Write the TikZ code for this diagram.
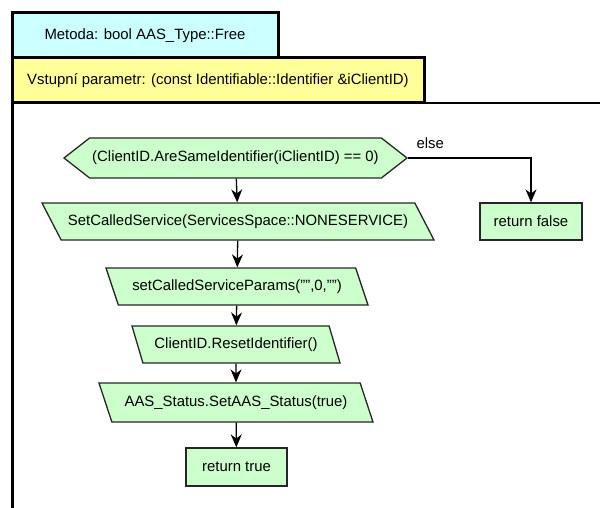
\documentclass[tikz,border=0pt]{standalone}
\usepackage{fontspec}
\setmainfont{Liberation Sans}[Ligatures=ResetAll]
\usetikzlibrary{positioning,shapes.geometric,shapes.symbols,arrows.meta}
\definecolor{hdrcyan}{RGB}{204,255,255}
\definecolor{hdryellow}{RGB}{255,255,153}
\definecolor{flowgreen}{RGB}{204,255,204}
\tikzset{
  hdr/.style={draw=black,line width=3pt,minimum height=45pt,inner sep=0pt},
  cond/.style={signal,signal to=west and east,signal pointer angle=76,draw=black!85,
    line width=1.3pt,fill=flowgreen,minimum height=40pt,inner xsep=2pt},
  proc/.style={trapezium,trapezium stretches body=true,draw=black!85,line width=1.3pt,
    fill=flowgreen,minimum height=37pt,inner xsep=0pt},
  retbox/.style={draw=black!85,line width=1.3pt,fill=flowgreen,minimum height=37pt},
  flow/.style={line width=1.3pt,-{Stealth[length=13pt,width=11pt]}}
}
\begin{document}
\begin{tikzpicture}[x=1pt,y=-1pt,font=\fontsize{14.9}{17}\selectfont]
\useasboundingbox (0,0) rectangle (600,508);
% frame of the method body
\draw [line width=2.5pt] (12,520) -- (12,103) -- (610,103);
\draw [line width=3pt] (12,103) -- (12,520);
% headers
\node [hdr,fill=hdrcyan,minimum width=266pt] (title) at (145,35.5) {Metoda: bool AAS\_Type::Free};
\node [hdr,fill=hdryellow,minimum width=412pt] (param) at (218,80.5) {Vstupní parametr: (const Identifiable::Identifier \&iClientID)};
% flow
\node [cond,minimum width=343pt] (test) at (235.5,158) {(ClientID.AreSameIdentifier(iClientID) == 0)};
\node [proc,trapezium left angle=133,trapezium right angle=47,minimum width=392pt] (svc) at (238,221.5) {SetCalledService(ServicesSpace::NONESERVICE)};
\node [proc,trapezium left angle=121,trapezium right angle=59,minimum width=262pt] (params) at (237,286.5) {setCalledServiceParams("",0,"")};
\node [proc,trapezium left angle=118,trapezium right angle=62,minimum width=208pt] (reset) at (236,344.5) {ClientID.ResetIdentifier()};
\node [proc,trapezium left angle=122,trapezium right angle=58,minimum width=274pt,minimum height=39pt] (status) at (236,402.5) {AAS\_Status.SetAAS\_Status(true)};
\node [retbox,minimum width=101pt,minimum height=38pt] (rtrue) at (236.5,467) {return true};
\node [retbox,minimum width=102pt] (rfalse) at (531,221.5) {return false};
\draw [flow] (test) -- (svc);
\draw [flow] (svc) -- (params);
\draw [flow] (params) -- (reset);
\draw [flow] (reset) -- (status);
\draw [flow] (status) -- (rtrue);
\draw [flow] (test.east) -| node [pos=0.09,above=5pt] {else} (rfalse.north);
\end{tikzpicture}
\end{document}
